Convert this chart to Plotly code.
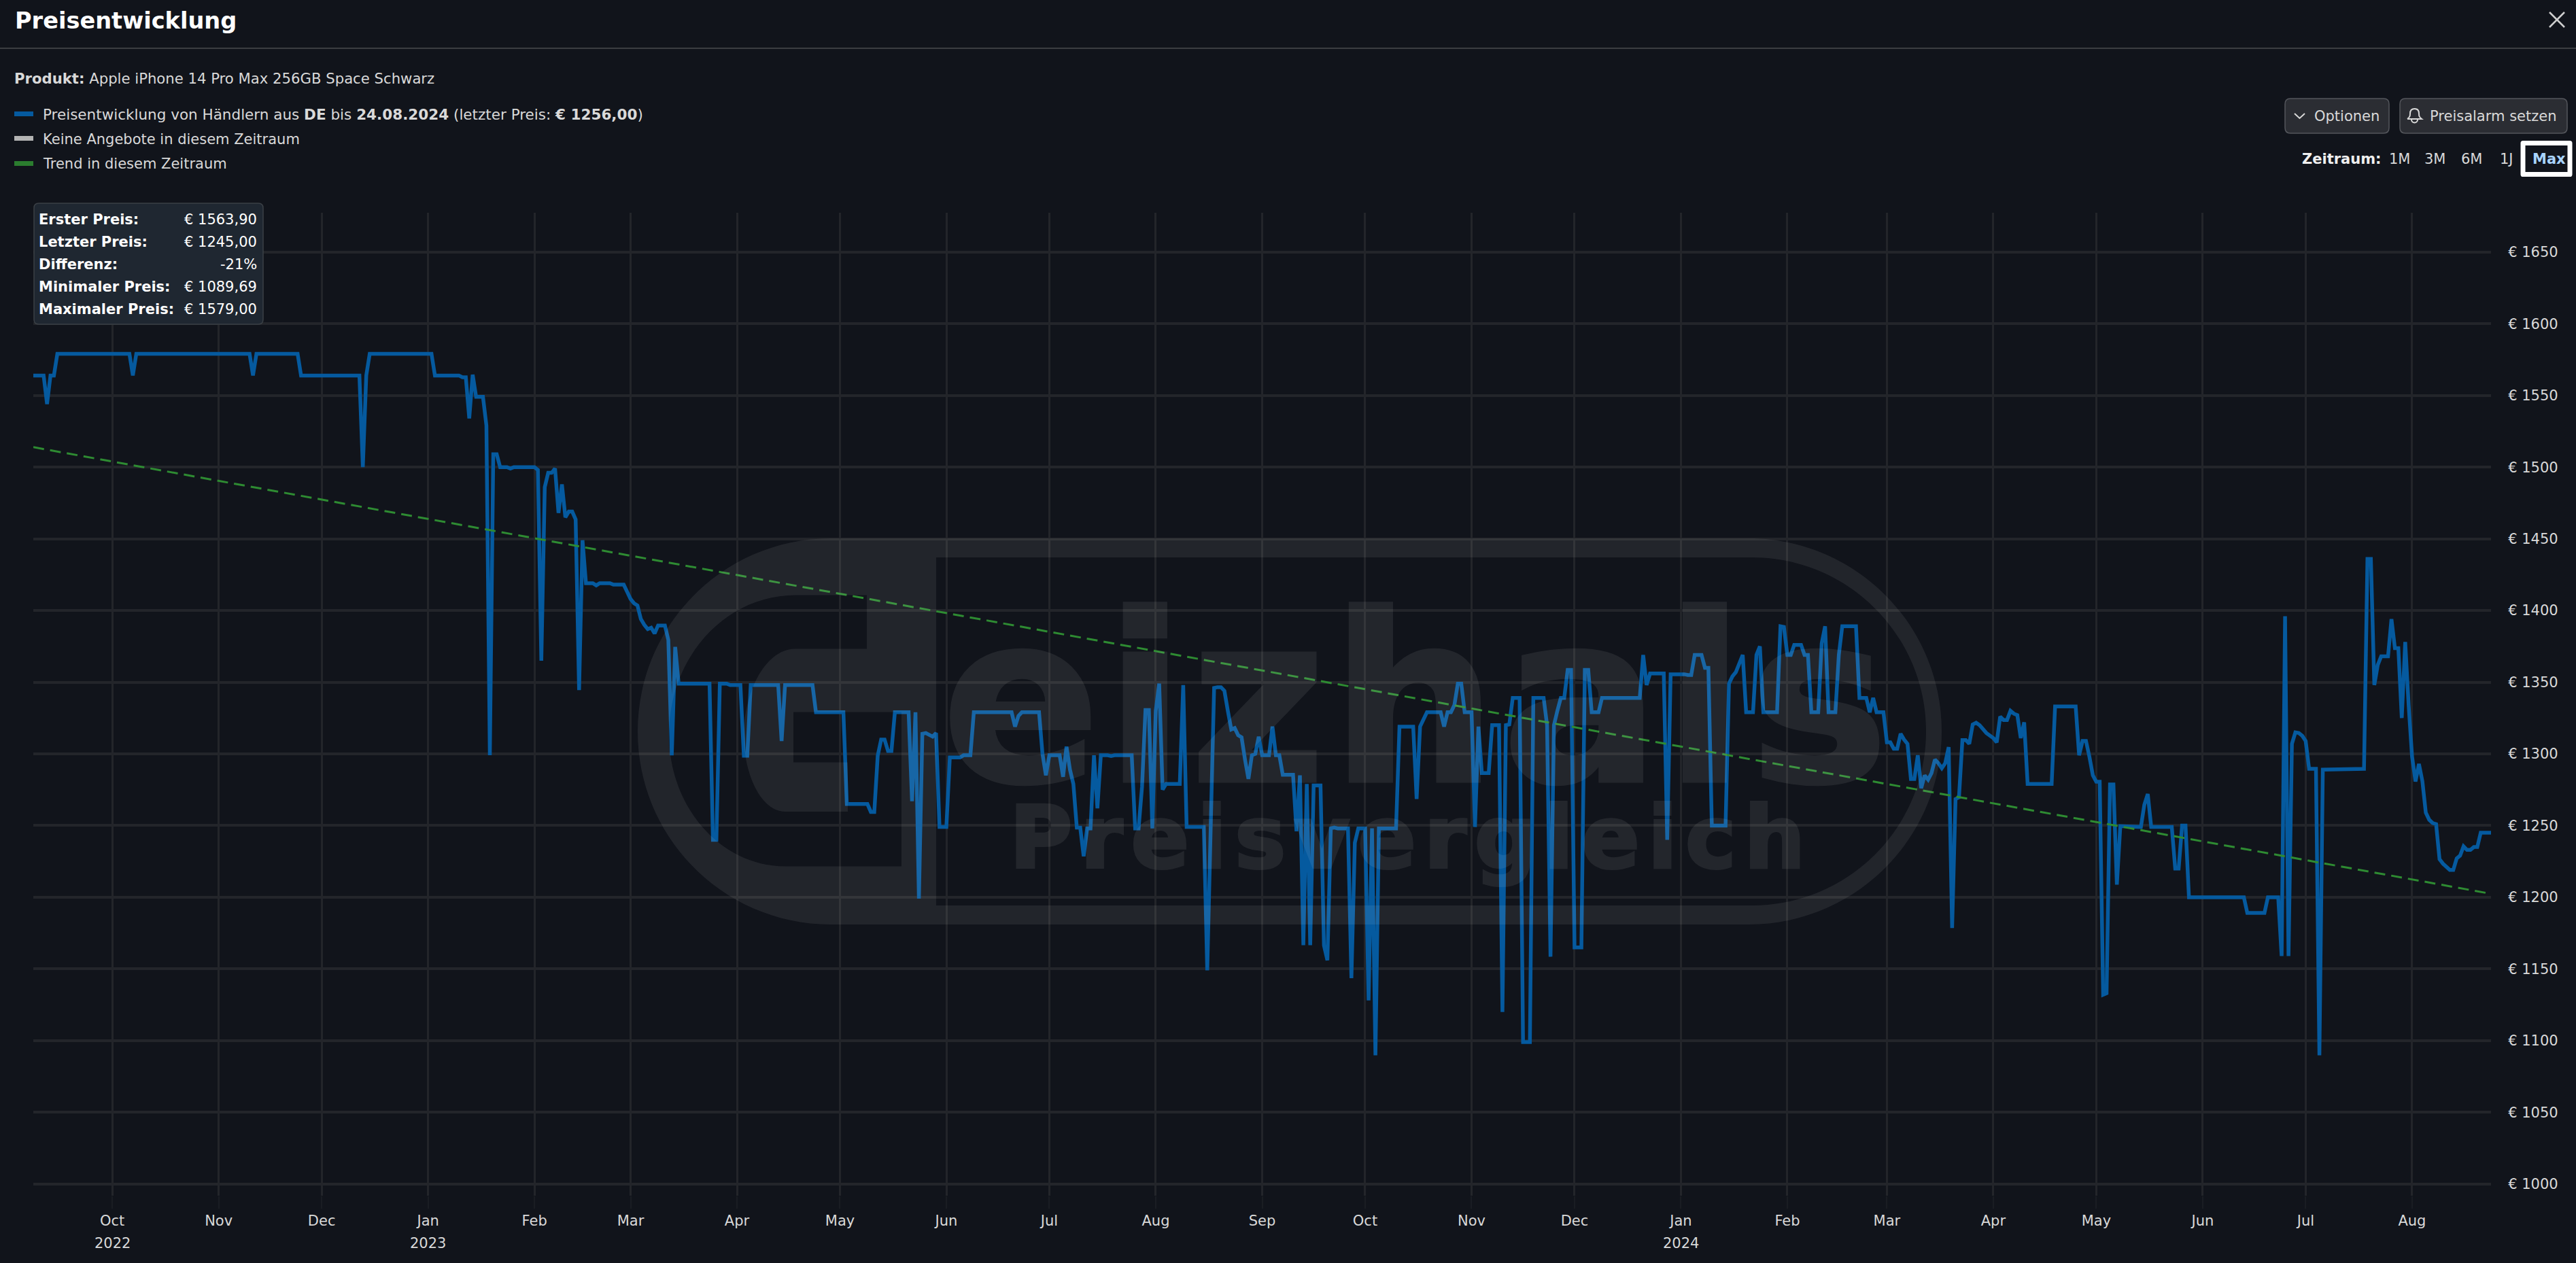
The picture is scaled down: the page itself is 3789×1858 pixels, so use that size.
import datetime as dt
import plotly.graph_objects as go

# ---------- data ----------
START = dt.date(2022, 9, 8)
END = dt.date(2024, 8, 24)

days_a = [0,3,4,5,6,7,28,29,30,63,64,65,77,78,95,96,97,98,116,117,124,125,126,127,128,129,131,132,133,134,135,136,138,139,140,146,147,148,149,150,151,152,153,154,155,156,157,158,159,160,161,163,164,165,168,169,172,173,174,175,176,177,178,179,180,181,182,184,185,186,187,188]
prices_a = [1563.9,1563.9,1544,1563.9,1563.9,1579,1579,1563.9,1579,1579,1563.9,1579,1579,1563.9,1563.9,1500,1563.9,1579,1579,1563.9,1563.9,1562.7,1562.7,1534,1564.5,1549,1549,1529,1299,1509,1509,1500,1500,1499,1500,1500,1498,1365,1486,1496,1496,1499,1468,1488,1465,1469,1469,1463.5,1344.5,1449,1419,1419,1417.5,1419,1419,1418,1418,1413,1408,1405,1403.5,1394,1390,1387,1388,1384,1389.5,1389.5,1379.5,1299,1374.6,1349]

days_b = [197,198,199,200,202,203,206,207,208,209,217,218,219,227,228,236,237,243,244,245,246,247,248,249,250,251,255,256,257,258,259,260,262,263,264,266,267,270,271,273,274,285,286,287,288,293,294,295,296,299,300,301,302,303,304,305,306,307,308,309,310,311,313,314,315,320]
prices_b = [1349,1240,1240,1349,1349,1348,1348,1298.7,1298.7,1348,1348,1309,1348,1348,1329,1329,1265,1265,1259.5,1259.5,1298.7,1310,1310,1302,1302,1329,1329,1267,1329,1199,1314,1314.5,1312,1314.5,1249,1249,1297.5,1297.5,1299,1299,1329,1329,1319,1326.5,1329,1329,1300,1285,1299,1299,1284,1305,1289,1279,1248.5,1248.5,1228.6,1248,1248,1299,1262,1299,1299,1298.5,1299,1299]

days_c = [321,322,323,324,325,326,327,328,329,330,334,335,336,341,342,343,344,345,346,347,348,349,350,351,352,353,354,355,356,357,358,360,361,362,363,364,367,368,369,370,371,372,373,375,376,377,378,379,380,383,384,385,386,388,389,390,391,392,397,398,402,403,404,406,410,411,412,413,414,415,416,417,419,420,421,422,424,425,427,428,429,430,431,433,434,436,437,440,441,442,443,444,445,446,447,448,449,451,452,453,454,456,457,468,469,470,471,475]
prices_c = [1248,1248,1277,1330.6,1330.6,1248,1330,1349,1275,1279,1279,1348,1249,1249,1149,1248,1346,1346.5,1346.5,1344,1330,1317,1318,1313,1311.5,1296,1282.5,1299,1300,1312,1299,1299,1319,1299,1299,1285.4,1285.4,1246,1285,1166.5,1279,1166.5,1278,1278,1166.5,1156,1248,1248.6,1248,1248,1143.5,1238,1248,1248,1128,1248,1089.7,1248,1248,1319,1319,1268.5,1319,1329,1329,1319,1329,1329,1334,1349,1349,1329,1329,1249,1319,1286.6,1286.6,1320,1320,1120,1320,1320.5,1339,1339,1099,1099,1339,1339,1320,1158.5,1320,1330,1339,1339,1358.6,1358.6,1165,1165,1358.6,1358.6,1329,1329,1339,1339,1369,1348,1356,1356]

days_d = [476,477,481,482,483,484,486,487,488,489,493,494,495,496,498,499,501,502,503,504,508,509,510,511,512,513,515,516,517,518,520,521,522,523,525,526,527,531,532,534,535,536,537,539,540,541,542,543,544,545,546,547,548,549,550,551,552,553,554,555,556,557,558,559,560,561,562,563,564,565,566,567,569,571,572,573,574,575,576,577,578,579,580,581,588,589,595]
prices_d = [1240,1355.5,1355.5,1355,1355,1369,1369,1360,1360,1250,1250,1349,1354,1357,1369,1329,1329,1369,1375,1329,1329,1389,1388.5,1369,1369,1376,1376,1369,1369,1329,1329,1377,1389,1329,1329,1369,1389,1389,1339,1339,1329,1339,1329,1329,1308,1308,1303.5,1303.5,1314,1310,1307,1282.5,1282.5,1299,1276,1285,1282,1286.6,1296,1293.5,1290,1293.5,1304.7,1178.5,1268.5,1269.7,1309.6,1309.6,1307,1320.5,1321.7,1320,1314.5,1311,1308,1326,1323.6,1323.6,1330,1328,1327,1311,1322,1279,1279,1333,1333]

days_e = [596,597,598,599,600,601,602,603,604,605,606,607,608,614,615,616,617,623,624,625,626,627,628,644,645,650,651,654,655,656,657,658,659,660,661,662,663,665,666,667,679,680,681,682,683,684,686,687,688,689,690,691,692,693,694,695,696,697,698,699,700,701,702,704,705,706,707,708,709,710,711,712,713,716]
prices_e = [1299,1309,1309,1298,1285,1280.5,1280.5,1132,1133,1278.7,1278.7,1208.8,1249.6,1249,1264.5,1272,1249,1249,1220,1220,1250,1250,1200,1200,1189,1189,1200,1200,1159,1396,1159,1307,1315,1314.5,1312.6,1309,1289.5,1289.5,1089.7,1289,1289.5,1436,1436,1348,1362,1368,1368,1394,1373.7,1373.7,1325,1378,1334,1298,1280.7,1293,1281,1259,1254,1251.7,1251,1226.5,1223.4,1219,1219,1227,1229,1235.5,1233,1233,1235,1235,1245,1245]

trend_prices = [1513.9, 1202.4]

month_ticks = ["2022-10-01","2022-11-01","2022-12-01","2023-01-01","2023-02-01","2023-03-01","2023-04-01","2023-05-01","2023-06-01","2023-07-01","2023-08-01","2023-09-01","2023-10-01","2023-11-01","2023-12-01","2024-01-01","2024-02-01","2024-03-01","2024-04-01","2024-05-01","2024-06-01","2024-07-01","2024-08-01"]
month_labels = ["Oct","Nov","Dec","Jan","Feb","Mar","Apr","May","Jun","Jul","Aug","Sep","Oct","Nov","Dec","Jan","Feb","Mar","Apr","May","Jun","Jul","Aug"]
year_ticks = ["2022-10-01","2023-01-01","2024-01-01"]
year_labels = ["2022","2023","2024"]
price_ticks = list(range(1000, 1651, 50))
price_labels = [f"€ {p}" for p in price_ticks]

tooltip_labels = ["Erster Preis:","Letzter Preis:","Differenz:","Minimaler Preis:","Maximaler Preis:"]
tooltip_values = ["€ 1563,90","€ 1245,00","-21%","€ 1089,69","€ 1579,00"]

days = days_a + days_b + days_c + days_d + days_e
prices = prices_a + prices_b + prices_c + prices_d + prices_e
assert len(days) == len(prices), (len(days_a),len(prices_a),len(days_b),len(prices_b),len(days_c),len(prices_c),len(days_d),len(prices_d),len(days_e),len(prices_e))
assert days == sorted(days)
dates = [START + dt.timedelta(days=d) for d in days]

# ---------- page geometry ----------
W, H = 3789, 1858
L, R, T, B = 49, 3664, 313, 1759
BG = "#11141b"
FONT = "DejaVu Sans"
TXT = "#d9d9d9"

def fx(px): return (px - L) / (R - L)
def fy(py): return (B - py) / (B - T)
def pt(px, py): return f"{fx(px):.6f},{fy(py):.6f}"

def path(cmds):
    out = []
    for c in cmds:
        op, *nums = c
        pairs = [pt(nums[i], nums[i + 1]) for i in range(0, len(nums), 2)]
        out.append(op + " ".join(pairs))
    return " ".join(out) + " "

def rr(x0, y0, x1, y1, r):
    return [("M", x0 + r, y0), ("L", x1 - r, y0), ("Q", x1, y0, x1, y0 + r), ("L", x1, y1 - r),
            ("Q", x1, y1, x1 - r, y1), ("L", x0 + r, y1), ("Q", x0, y1, x0, y1 - r),
            ("L", x0, y0 + r), ("Q", x0, y0, x0 + r, y0)]

shapes, notes = [], []

def add_path(cmds, fill=None, line=None, width=0, closed=True, layer="above"):
    d = path(cmds) + ("Z" if closed else "")
    shapes.append(dict(type="path", xref="paper", yref="paper", path=d, layer=layer, fillcolor=fill or "rgba(0,0,0,0)",
                       line=dict(color=line or "rgba(0,0,0,0)", width=width)))

def text(px, py, s, size=21, color=TXT, anchor="left"):
    notes.append(dict(xref="paper", yref="paper", x=fx(px), y=fy(py), text=s, showarrow=False, xanchor=anchor,
                      yanchor="middle", align=anchor, borderpad=0,
                      font=dict(family=FONT, size=size, color=color)))

# watermark (logo): stadium with a G cut out on the left and letters on the right
K = 0.5523
ro, cx1, cx2, cy = 284, 1222, 2572, 1076
ri, cxi = 256, 2577
wm = [("M", cx1, cy - ro), ("L", cx2, cy - ro),
      ("C", cx2 + K * ro, cy - ro, cx2 + ro, cy - K * ro, cx2 + ro, cy),
      ("C", cx2 + ro, cy + K * ro, cx2 + K * ro, cy + ro, cx2, cy + ro),
      ("L", cx1, cy + ro),
      ("C", cx1 - K * ro, cy + ro, cx1 - ro, cy + K * ro, cx1 - ro, cy),
      ("C", cx1 - ro, cy - K * ro, cx1 - K * ro, cy - ro, cx1, cy - ro), ("Z",),
      ("M", 1377, cy - ri), ("L", cxi, cy - ri),
      ("C", cxi + K * ri, cy - ri, cxi + ri, cy - K * ri, cxi + ri, cy),
      ("C", cxi + ri, cy + K * ri, cxi + K * ri, cy + ri, cxi, cy + ri),
      ("L", 1377, cy + ri), ("Z",),
      ("M", 1275, 875.5), ("L", 1170, 875.5), ("C", 1067, 875.5, 984, 967, 984, 1080.6),
      ("C", 984, 1187, 1060, 1274.5, 1155, 1274.5), ("L", 1326, 1274.5), ("L", 1326, 1047.5), ("L", 1167, 1047.5),
      ("L", 1167, 1121.4), ("L", 1247, 1121.4), ("L", 1247, 1194), ("L", 1155, 1194),
      ("C", 1120, 1194, 1094, 1140, 1094, 1080.6), ("C", 1094, 1020, 1125, 954.6, 1170, 954.6), ("L", 1275, 954.6), ("Z",)]
WM_A = 0.075
add_path(wm, fill=f"rgba(255,255,255,{WM_A})", closed=False)
notes.append(dict(xref="paper", yref="paper", x=fx(1384), y=fy(1030), showarrow=False, xanchor="left", opacity=WM_A,
                  text='<b><span style="letter-spacing:7px;stroke:#ffffff;stroke-width:5px">eizhals</span></b>',
                  yanchor="middle", borderpad=0, font=dict(family=FONT, size=344, color="#ffffff")))
notes.append(dict(xref="paper", yref="paper", x=fx(1484), y=fy(1232), showarrow=False, xanchor="left", opacity=WM_A,
                  text='<b><span style="letter-spacing:12px;stroke:#ffffff;stroke-width:4px">Preisvergleich</span></b>',
                  yanchor="middle", borderpad=0, font=dict(family=FONT, size=126, color="#ffffff")))

# header
text(21, 30, "<b>Preisentwicklung</b>", size=33.6, color="#ffffff")
shapes.append(dict(type="line", xref="paper", yref="paper", x0=fx(0), x1=fx(W), y0=fy(71), y1=fy(71), line=dict(color="#3b3d41", width=2)))
for a, b in [((3750, 18), (3772, 40)), ((3772, 18), (3750, 40))]:
    add_path([("M", *a), ("L", *b)], line="#cfcfcf", width=2.5, closed=False)

text(20, 115, "<b>Produkt:</b> Apple iPhone 14 Pro Max 256GB Space Schwarz", size=21.2)
for y, col, s, sz in [(167.5, "#055a9f", "Preisentwicklung von Händlern aus <b>DE</b> bis <b>24.08.2024</b> (letzter Preis: <b>€ 1256,00</b>)", 21.5),
                      (203.5, "#b3b3b3", "Keine Angebote in diesem Zeitraum", 21),
                      (240.5, "#2b7d2f", "Trend in diesem Zeitraum", 21)]:
    add_path(rr(21, y - 3.5, 49, y + 3.5, 0.1), fill=col)
    text(62, y + 1, s, size=sz)

# buttons
add_path(rr(3361, 145, 3514, 196, 8), fill="#2b2d33", line="#54565c", width=1.5)
add_path(rr(3530, 145, 3776, 196, 8), fill="#2b2d33", line="#54565c", width=1.5)
add_path([("M", 3375, 167), ("L", 3382.5, 174), ("L", 3390, 167)], line=TXT, width=2, closed=False)
add_path([("M", 3541, 175), ("C", 3545, 172, 3545, 170, 3545, 167), ("C", 3545, 162, 3548, 160, 3551.5, 160),
          ("C", 3555, 160, 3558, 162, 3558, 167), ("C", 3558, 170, 3558, 172, 3562, 175), ("L", 3541, 175)], line=TXT, width=2, closed=False)
add_path([("M", 3547, 176), ("C", 3547, 182, 3556, 182, 3556, 176)], line=TXT, width=2, closed=False)
text(3403, 171, "Optionen")
text(3573, 171, "Preisalarm setzen")

# period selector
text(3385, 234, "<b>Zeitraum:</b>", color="#efefef")
for x, s in [(3513, "1M"), (3565, "3M"), (3619, "6M"), (3676, "1J")]:
    text(x, 234, s)
text(3724, 234, "<b>Max</b>", color="#a9d4ff")
add_path(rr(3711, 210.5, 3780, 256.5, 0.1), line="#ffffff", width=7)

# statistics box
add_path(rr(50, 299, 387, 477, 7), fill="#1f2731", line="#3b4046", width=1.5)
for i, (a, b) in enumerate(zip(tooltip_labels, tooltip_values)):
    y = 323 + i * 33
    text(56, y, f"<b>{a}</b>", color="#ffffff")
    text(379, y, b, color="#ffffff", anchor="right")

# year labels under the month labels
for d, s in zip(year_ticks, year_labels):
    notes.append(dict(xref="x", yref="paper", x=d, y=fy(1829), text=s, showarrow=False, xanchor="center", yanchor="middle",
                      borderpad=0, font=dict(family=FONT, size=21, color=TXT)))

fig = go.Figure()
fig.add_trace(go.Scatter(x=dates, y=prices, mode="lines", name="Preisentwicklung",
                         line=dict(color="#055a9f", width=5.5, simplify=False), hoverinfo="x+y"))
fig.add_trace(go.Scatter(x=[START, END], y=trend_prices, mode="lines", name="Trend",
                         line=dict(color="#2e8b32", width=3, dash="16px,9px"), hoverinfo="skip"))
fig.update_layout(
    width=W, height=H, paper_bgcolor=BG, plot_bgcolor=BG, showlegend=False,
    margin=dict(l=L, r=W - R, t=T, b=H - B, pad=0),
    font=dict(family=FONT, size=21, color=TXT),
    shapes=shapes, annotations=notes,
    xaxis=dict(type="date", range=[START.isoformat(), END.isoformat()], tickmode="array", tickvals=month_ticks, ticktext=month_labels,
               showgrid=True, gridcolor="#23252a", gridwidth=2.5, zeroline=False, showline=False,
               ticks="outside", ticklen=18, tickwidth=2, tickcolor="#1a1d23", tickangle=0,
               tickfont=dict(family=FONT, size=21, color=TXT)),
    yaxis=dict(side="right", range=[991.8, 1677.4], tickmode="array", tickvals=price_ticks, ticktext=price_labels,
               showgrid=True, gridcolor="#23252a", gridwidth=3.5, zeroline=False, showline=False,
               ticks="outside", ticklen=20, tickwidth=2, tickcolor=BG,
               tickfont=dict(family=FONT, size=21, color=TXT)),
)
fig.write_html("out.html", config=dict(displayModeBar=False),
               post_script="document.body.style.margin='0';document.body.style.background='#11141b';document.body.style.overflow='hidden';")
